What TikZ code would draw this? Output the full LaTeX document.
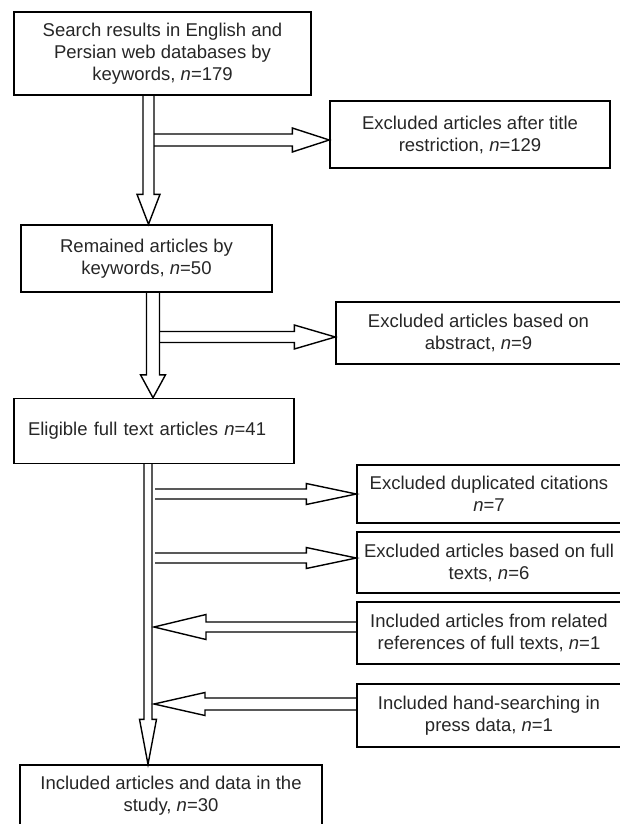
\documentclass[tikz,border=0pt]{standalone}
\usepackage{fontspec}
\setmainfont{Liberation Sans}
\usetikzlibrary{calc}

% hollow block arrows: start, tip, half shaft, half head, head length
\newcommand{\downblk}[5]{%
  \draw[blk] let \p1=(#1), \p2=(#2) in
    ({\x1-#3},\y1) -- ({\x1-#3},{\y2+#5}) -- ({\x1-#4},{\y2+#5}) -- (\x2,\y2)
    -- ({\x1+#4},{\y2+#5}) -- ({\x1+#3},{\y2+#5}) -- ({\x1+#3},\y1);}
\newcommand{\rightblk}[5]{%
  \draw[blk] let \p1=(#1), \p2=(#2) in
    (\x1,{\y1+#3}) -- ({\x2-#5},{\y1+#3}) -- ({\x2-#5},{\y1+#4}) -- (\x2,\y2)
    -- ({\x2-#5},{\y1-#4}) -- ({\x2-#5},{\y1-#3}) -- (\x1,{\y1-#3});}
\newcommand{\leftblk}[5]{%
  \draw[blk] let \p1=(#1), \p2=(#2) in
    (\x1,{\y1+#3}) -- ({\x2+#5},{\y1+#3}) -- ({\x2+#5},{\y1+#4}) -- (\x2,\y2)
    -- ({\x2+#5},{\y1-#4}) -- ({\x2+#5},{\y1-#3}) -- (\x1,{\y1-#3});}

\begin{document}
\begin{tikzpicture}
[x=1pt,y=-1pt,line width=1.4pt,
 every node/.style={font=\fontsize{18.5}{22}\selectfont,text=black!85},
 box/.style={rectangle,draw,align=center,inner sep=0pt},
 blk/.style={draw,line join=miter}]
\useasboundingbox (0,0) rectangle (619,824);

\node[box,minimum width=297,minimum height=83] (search) at (162.5,53.5)
  {Search results in English and\\Persian web databases by\\keywords, \textit{n}=179};
\node[box,minimum width=280,minimum height=67] (title) at (470,134.5)
  {Excluded articles after title\\restriction, \textit{n}=129};
\node[box,minimum width=251,minimum height=67] (remain) at (146.5,258.5)
  {Remained articles by\\keywords, \textit{n}=50};
\node[box,minimum width=285,minimum height=62] (abstr) at (478.5,333)
  {Excluded articles based on\\abstract, \textit{n}=9};
\node[box,minimum width=280,minimum height=65,text width=252,align=left] (elig) at (154,431)
  {Eligible full text articles \textit{n}=41};
\node[box,minimum width=264,minimum height=58] (dupl) at (489,494)
  {Excluded duplicated citations\\\textit{n}=7};
\node[box,minimum width=264,minimum height=61] (fullt) at (489,562.5)
  {Excluded articles based on full\\texts, \textit{n}=6};
\node[box,minimum width=264,minimum height=62] (refs) at (489,633)
  {Included articles from related\\references of full texts, \textit{n}=1};
\node[box,minimum width=264,minimum height=63] (hand) at (489,715.5)
  {Included hand-searching in\\press data, \textit{n}=1};
\node[box,minimum width=302,minimum height=61] (study) at (171,795.5)
  {Included articles and data in the\\study, \textit{n}=30};

% spine and junctions
\coordinate (c1) at (148.5,0);
\coordinate (c2) at (153,0);
\coordinate (c3) at (148,0);
\coordinate (j1) at (154,140);
\coordinate (j2) at (159,337);
\coordinate (j3) at (155,494);
\coordinate (j4) at (155,558);
\coordinate (j5) at (154,627);
\coordinate (j6) at (154,704);

\downblk{c1 |- search.south}{c1 |- remain.north}{5.5pt}{11.5pt}{30pt}
\downblk{c2 |- remain.south}{c2 |- elig.north}{6.5pt}{12.5pt}{23pt}
\downblk{c3 |- elig.south}{c3 |- study.north}{4pt}{8.5pt}{45pt}

\rightblk{j1}{title.west |- j1}{6pt}{12pt}{37pt}
\rightblk{j2}{abstr.west |- j2}{5.5pt}{12pt}{41pt}
\rightblk{j3}{dupl.west |- j3}{5pt}{10.5pt}{50pt}
\rightblk{j4}{fullt.west |- j4}{5pt}{10.5pt}{50pt}
\leftblk{refs.west |- j5}{j5}{5pt}{12.5pt}{52pt}
\leftblk{hand.west |- j6}{j6}{6pt}{11.5pt}{51pt}
\end{tikzpicture}
\end{document}
